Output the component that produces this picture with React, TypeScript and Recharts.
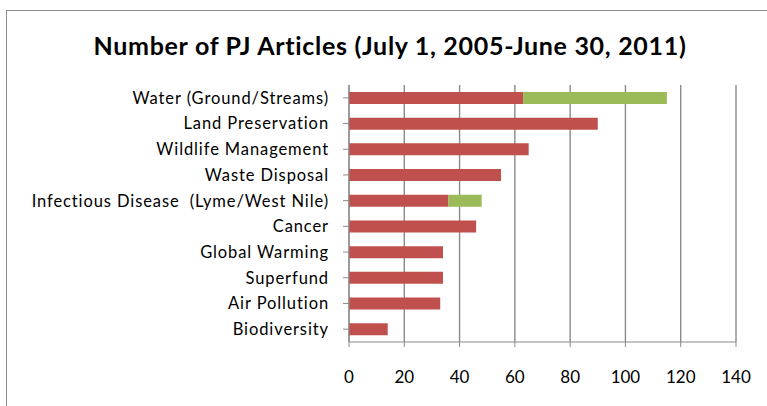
import React from "react";
import { BarChart, Bar, XAxis, YAxis, CartesianGrid } from "recharts";

const topics = [
  "Water (Ground/Streams)",
  "Land Preservation",
  "Wildlife Management",
  "Waste Disposal",
  "Infectious Disease\u00a0 (Lyme/West Nile)",
  "Cancer",
  "Global Warming",
  "Superfund",
  "Air Pollution",
  "Biodiversity",
];
const firstSeries = [63, 90, 65, 55, 36, 46, 34, 34, 33, 14];
const secondSeries = [52, 0, 0, 0, 12, 0, 0, 0, 0, 0];
const xTicks = [0, 20, 40, 60, 80, 100, 120, 140];

const rows = topics.map((name, i) => ({
  name,
  a: firstSeries[i],
  b: secondSeries[i],
}));

const FONT = "Lato, 'Open Sans', sans-serif";
const GRID = "#8a8a8a";

export default function App() {
  return (
    <div
      style={{
        position: "absolute",
        left: 0,
        top: 0,
        width: 767,
        height: 406,
        overflow: "hidden",
        background: "#fff",
        fontFamily: FONT,
      }}
    >
      {/* outer chart frame */}
      <div
        style={{
          position: "absolute",
          left: 6,
          top: 10,
          width: 800,
          height: 450,
          border: "1px solid #8c8c8c",
        }}
      />
      <div
        style={{
          position: "absolute",
          left: 0,
          top: 30,
          width: 780,
          textAlign: "center",
          fontSize: 25,
          fontWeight: 700,
          letterSpacing: 0.7,
          color: "#000",
        }}
      >
        Number of PJ Articles (July 1, 2005-June 30, 2011)
      </div>
      <div style={{ position: "absolute", left: 0, top: 0 }}>
        <BarChart
          width={767}
          height={406}
          data={rows}
          layout="vertical"
          barCategoryGap="27%"
          margin={{ top: 85, right: 31, left: 0, bottom: 34 }}
        >
          <CartesianGrid horizontal={false} stroke={GRID} strokeWidth={1.4} />
          <XAxis
            type="number"
            domain={[0, 140]}
            ticks={xTicks}
            interval={0}
            height={30}
            tickSize={5}
            tickMargin={24}
            axisLine={{ stroke: GRID }}
            tickLine={{ stroke: GRID }}
            tick={{ fontSize: 17, fill: "#000", fontFamily: FONT }}
          />
          <YAxis
            type="category"
            dataKey="name"
            width={349}
            interval={0}
            tickSize={6}
            tickMargin={14}
            axisLine={{ stroke: GRID }}
            tickLine={{ stroke: GRID }}
            tick={{ fontSize: 16.5, fill: "#000", fontFamily: FONT, letterSpacing: 0.9 }}
          />
          <Bar dataKey="a" stackId="s" fill="#C0504D" isAnimationActive={false} />
          <Bar dataKey="b" stackId="s" fill="#9BBB59" isAnimationActive={false} />
        </BarChart>
      </div>
    </div>
  );
}
